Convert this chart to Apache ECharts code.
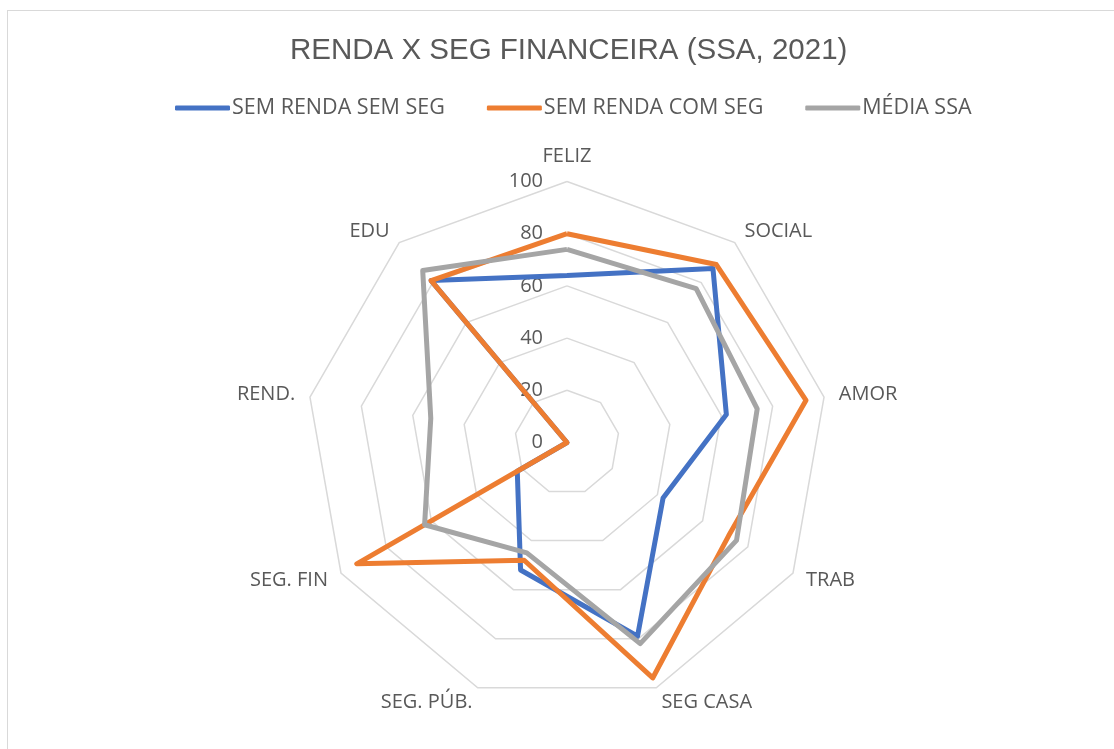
<!DOCTYPE html>
<html>
<head>
<meta charset="utf-8">
<script src="https://cdn.jsdelivr.net/npm/echarts@6/dist/echarts.min.js"></script>
<style>
  html, body { margin: 0; padding: 0; background: #fff; overflow: hidden; }
  #frame {
    position: absolute; left: 7px; top: 10px;
    width: 1300px; height: 900px;
    border: 1.5px solid #d9d9d9;
  }
  #container-radar { position: absolute; left: 0; top: 0; width: 1114px; height: 749px; }
</style>
</head>
<body>
<div id="frame"></div>
<div id="container-radar"></div>
<script>
// categories in clockwise order starting at the top
const categories = ['FELIZ', 'SOCIAL', 'AMOR', 'TRAB', 'SEG CASA', 'SEG. PÚB.', 'SEG. FIN', 'REND.', 'EDU']
const semRendaSemSeg = [64, 87, 62, 42.5, 79, 52, 22, 0, 81]
const semRendaComSeg = [80, 89, 93, 71.5, 96, 48, 93, 0, 81]
const mediaSsa = [74, 77, 74, 75, 82, 45, 63, 53, 86]
const seriesNames = ['SEM RENDA SEM SEG', 'SEM RENDA COM SEG', 'MÉDIA SSA']
const seriesColors = ['#4472C4', '#ED7D31', '#A5A5A5']
const tickMax = 100
const tickStep = 20

// echarts lays the radar out counter-clockwise, so keep the first and flip the rest
const flip = arr => [arr[0]].concat(arr.slice(1).reverse())

const center = [567, 442.5]
const radius = 261
const textColor = '#595959'
const font = 'Open Sans'

var chartDom = document.getElementById('container-radar')
var myChart = echarts.init(chartDom)
var option

option = {
  animation: false,
  title: {
    text: 'RENDA X SEG FINANCEIRA (SSA, 2021)',
    left: 285,
    top: 29,
    textStyle: {
      fontFamily: 'Liberation Sans',
      fontSize: 29.5,
      fontWeight: 'normal',
      color: textColor,
      lineHeight: 34
    }
  },
  legend: {
    data: seriesNames,
    left: 170,
    top: 92,
    itemWidth: 55,
    itemHeight: 5,
    itemGap: 42,
    icon: 'roundRect',
    textStyle: { fontFamily: font, fontSize: 21.5, color: textColor, padding: [0, 0, 0, -3] }
  },
  radar: {
    center: center,
    radius: radius,
    shape: 'polygon',
    splitNumber: tickMax / tickStep,
    indicator: flip(categories).map(name => ({ name: name, min: 0, max: tickMax })),
    axisName: { color: textColor, fontFamily: font, fontSize: 20 },
    nameGap: 15,
    axisLine: { show: false },
    axisTick: { show: false },
    splitArea: { show: false },
    splitLine: { lineStyle: { color: '#d9d9d9', width: 1.5 } }
  },
  // polar only to print the 0..100 scale along the top spoke
  polar: { center: center, radius: radius },
  angleAxis: { type: 'value', show: false, min: 0, max: 360 },
  radiusAxis: {
    type: 'value',
    min: 0,
    max: tickMax,
    interval: tickStep,
    axisLine: { show: false },
    axisTick: { show: false },
    splitLine: { show: false },
    axisLabel: { color: textColor, fontFamily: font, fontSize: 20, margin: 24 }
  },
  series: [
    {
      type: 'radar',
      symbol: 'none',
      data: [
        { name: seriesNames[0], value: flip(semRendaSemSeg) },
        { name: seriesNames[1], value: flip(semRendaComSeg) },
        { name: seriesNames[2], value: flip(mediaSsa) }
      ].map((d, i) => ({
        ...d,
        lineStyle: { color: seriesColors[i], width: 5 },
        itemStyle: { color: seriesColors[i] }
      }))
    }
  ]
}
option && myChart.setOption(option)
</script>
</body>
</html>
